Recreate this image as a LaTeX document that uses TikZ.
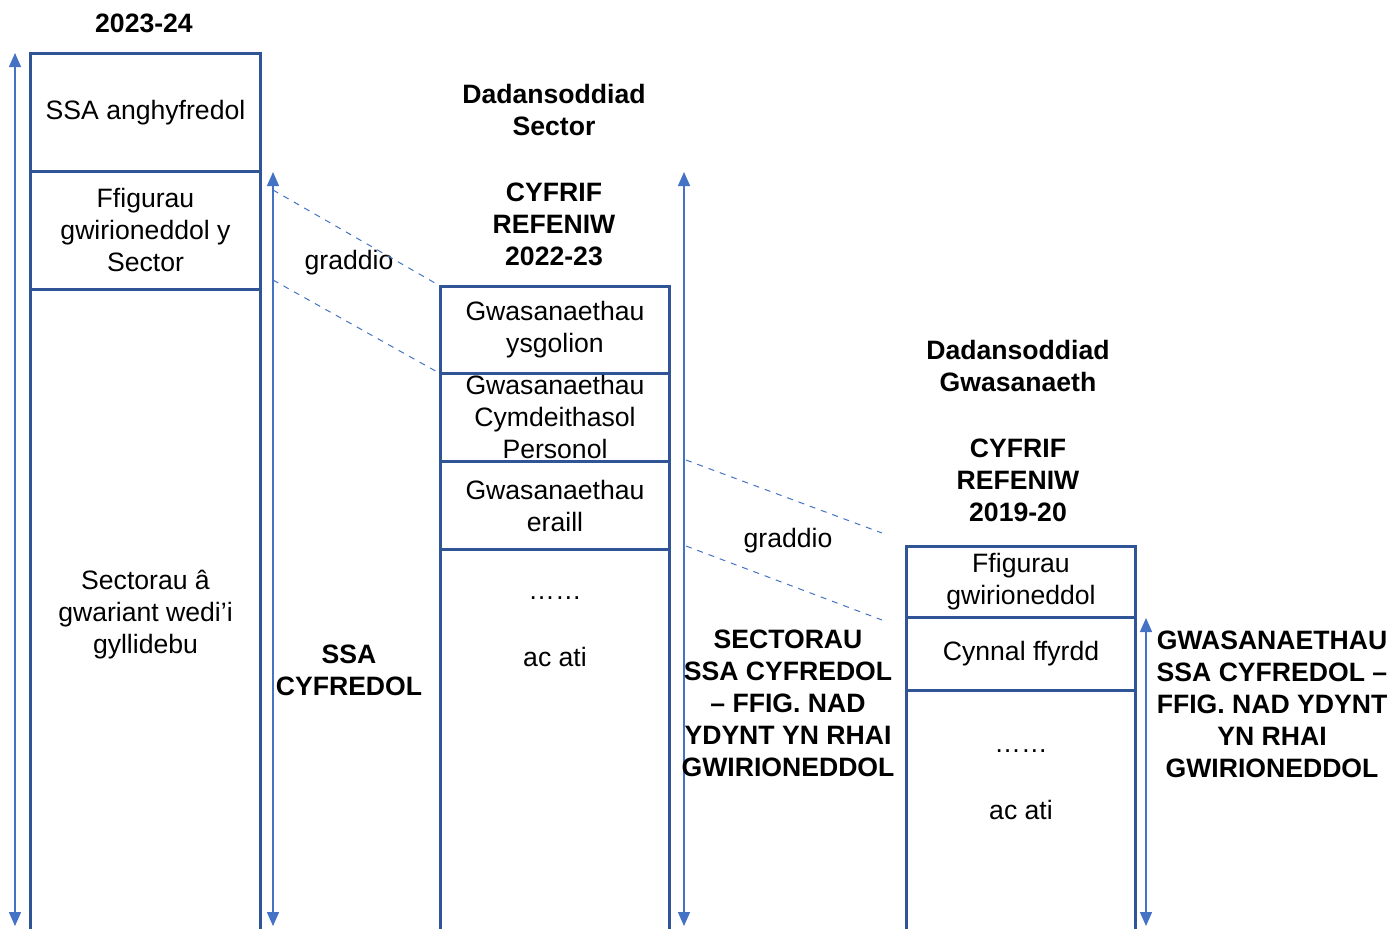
\documentclass[tikz,border=0pt]{standalone}
\usepackage{fontspec}
\setmainfont{Liberation Sans}
\usetikzlibrary{arrows.meta,positioning}
\definecolor{boxblue}{HTML}{2F5597}
\definecolor{arrowblue}{HTML}{4472C4}
\tikzset{
  cell/.style={draw=boxblue, line width=0.8pt, inner sep=0pt, anchor=north},
  frame/.style={draw=boxblue, line width=1.4pt},
  span/.style={arrowblue, line width=0.7pt, {Triangle[width=6pt,length=7pt]}-{Triangle[width=6pt,length=7pt]}},
  scaling/.style={arrowblue, dashed, line width=0.5pt},
  txt/.style={font=\fontsize{13.3}{16}\selectfont, align=center, inner sep=0pt},
  head/.style={txt, font=\fontsize{13.3}{16}\selectfont\bfseries},
}
\begin{document}
\begin{tikzpicture}[x=0.5pt,y=-0.5pt]
\useasboundingbox (0,0) rectangle (1392,928);
\clip (0,0) rectangle (1392,928);

% 2023-24 column
\node[head] (year) at (144,23) {2023-24};
\node[cell, minimum width=114.5pt, minimum height=58.5pt] (s1) at (145.5,53) {};
\node[cell, minimum width=114.5pt, minimum height=58pt, below=0pt of s1] (s2) {};
\node[cell, minimum width=114.5pt, minimum height=324.5pt, below=0pt of s2] (s3) {};
\draw[frame] (s1.north west) rectangle (s3.south east);
\node[txt] (s1txt) at (s1) {SSA anghyfredol};
\node[txt] (s2txt) at (s2) {Ffigurau\\gwirioneddol y\\Sector};
\node[txt] (s3txt) at (s3) {Sectorau â\\gwariant wedi’i\\gyllidebu};

\coordinate (a1top) at (15,53);
\coordinate (a1bot) at (15,926);
\draw[span] (a1top) -- (a1bot);
\coordinate (a2top) at (273,172);
\coordinate (a2bot) at (273,926);
\draw[span] (a2top) -- (a2bot);

\node[txt] (grad1) at (349,263) {graddio};
\node[head] (ssa) at (349,670) {SSA\\CYFREDOL};

% sector analysis column
\node[head] (dadsec) at (554,110) {Dadansoddiad\\Sector};
\node[head] (cyf1) at (554,224) {CYFRIF\\REFENIW\\2022-23};
\node[cell, minimum width=114pt, minimum height=43pt] (m1) at (555,286) {};
\node[cell, minimum width=114pt, minimum height=43pt, below=0pt of m1] (m2) {};
\node[cell, minimum width=114pt, minimum height=43.5pt, below=0pt of m2] (m3) {};
\node[cell, minimum width=114pt, minimum height=195pt, below=0pt of m3] (m4) {};
\draw[frame] (m1.north west) rectangle (m4.south east);
\node[txt] (m1txt) at (m1) {Gwasanaethau\\ysgolion};
\node[txt] (m2txt) at (m2) {Gwasanaethau\\Cymdeithasol\\Personol};
\node[txt] (m3txt) at (m3) {Gwasanaethau\\eraill};
\node[txt] (m4dots) at (555,598) {……};
\node[txt] (m4etc) at (555,657) {ac ati};

\coordinate (d1a) at (273,190);
\coordinate (d2a) at (273,280);
\draw[scaling] (d1a) -- (m1.north west);
\draw[scaling] (d2a) -- (m2.north west);

\coordinate (a3top) at (684,172);
\coordinate (a3bot) at (684,926);
\draw[span] (a3top) -- (a3bot);

\node[txt] (grad2) at (788,541) {graddio};
\node[head] (sect) at (788,703) {SECTORAU\\SSA CYFREDOL\\– FFIG. NAD\\YDYNT YN RHAI\\GWIRIONEDDOL};

% service analysis column
\node[head] (dadgw) at (1018,366) {Dadansoddiad\\Gwasanaeth};
\node[head] (cyf2) at (1018,480) {CYFRIF\\REFENIW\\2019-20};
\node[cell, minimum width=114pt, minimum height=35pt] (r1) at (1021,546) {};
\node[cell, minimum width=114pt, minimum height=35.5pt, below=0pt of r1] (r2) {};
\node[cell, minimum width=114pt, minimum height=124pt, below=0pt of r2] (r3) {};
\draw[frame] (r1.north west) rectangle (r3.south east);
\node[txt] (r1txt) at (r1) {Ffigurau\\gwirioneddol};
\node[txt] (r2txt) at (r2) {Cynnal ffyrdd};
\node[txt] (r3dots) at (1021,751) {……};
\node[txt] (r3etc) at (1021,810) {ac ati};

\coordinate (d3a) at (686,460);
\coordinate (d3b) at (882,533);
\coordinate (d4a) at (686,546);
\coordinate (d4b) at (882,620);
\draw[scaling] (d3a) -- (d3b);
\draw[scaling] (d4a) -- (d4b);

\coordinate (a4top) at (1146,618);
\coordinate (a4bot) at (1146,926);
\draw[span] (a4top) -- (a4bot);
\node[head] (gwas) at (1272,704) {GWASANAETHAU\\SSA CYFREDOL –\\FFIG. NAD YDYNT\\YN RHAI\\GWIRIONEDDOL};
\end{tikzpicture}
\end{document}
